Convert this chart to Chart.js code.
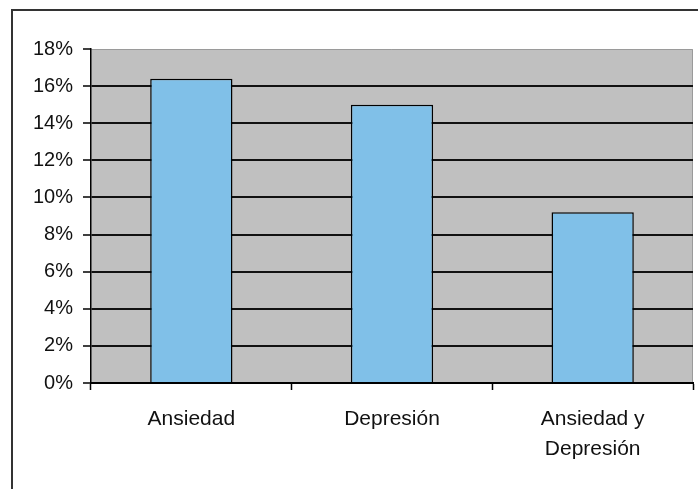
<!DOCTYPE html>
<html>
<head>
<meta charset="utf-8">
<script src="https://cdn.jsdelivr.net/npm/chart.js@4/dist/chart.umd.min.js"></script>
<style>
    html, body { margin: 0; padding: 0; background: #fff; overflow: hidden; }
    #frame {
        position: absolute; left: 11px; top: 9px;
        width: 720px; height: 520px;
        border: 2px solid #333;
    }
    #wrap { position: absolute; left: 0; top: 0; width: 698px; height: 489px; }
</style>
</head>
<body>
<div id="frame"></div>
<div id="wrap"><canvas id="chart" width="698" height="489"></canvas></div>
<script>
// Datos
const categories = [['Ansiedad'], ['Depresión'], ['Ansiedad y', 'Depresión']];
const values = [16.4, 15.0, 9.2];
const yTicks = [0, 2, 4, 6, 8, 10, 12, 14, 16, 18];

// fondo gris del área de trazado
const plotBackground = {
    id: 'plotBackground',
    beforeDraw(chart) {
        const { ctx, chartArea: a } = chart;
        ctx.save();
        ctx.fillStyle = '#c0c0c0';
        ctx.fillRect(a.left, a.top, a.right - a.left, a.bottom - a.top);
        ctx.strokeStyle = '#9a9a9a';
        ctx.lineWidth = 1;
        ctx.beginPath();
        ctx.moveTo(a.left, a.top + 0.5);
        ctx.lineTo(a.right - 0.5, a.top + 0.5);
        ctx.lineTo(a.right - 0.5, a.bottom);
        ctx.stroke();
        ctx.restore();
    }
};

const ctx = document.getElementById('chart').getContext('2d');
new Chart(ctx, {
    type: 'bar',
    data: {
        labels: categories,
        datasets: [{
            data: values,
            backgroundColor: '#80c0e8',
            borderColor: '#000',
            borderWidth: 1.5,
            barPercentage: 0.41,
            categoryPercentage: 1
        }]
    },
    options: {
        responsive: false,
        animation: false,
        layout: { padding: { top: 49, right: 5, left: 0, bottom: 0 } },
        plugins: {
            legend: { display: false },
            tooltip: { enabled: false }
        },
        scales: {
            x: {
                offset: true,
                grid: {
                    offset: true,
                    drawOnChartArea: false,
                    drawTicks: true,
                    tickLength: 7,
                    tickColor: '#000',
                    tickWidth: 1.5
                },
                border: { color: '#000', width: 2 },
                ticks: {
                    color: '#111',
                    padding: 14,
                    font: { family: '"Liberation Sans", Arial', size: 21, lineHeight: 1.45 },
                    maxRotation: 0
                },
                afterFit(scale) { scale.height = 106; }
            },
            y: {
                min: 0,
                max: 18,
                afterBuildTicks(scale) {
                    scale.ticks = yTicks.map(v => ({ value: v }));
                },
                grid: {
                    color: c => (c.tick && c.tick.value === 18) ? 'rgba(0,0,0,0)' : '#111',
                    lineWidth: 2,
                    tickColor: '#000',
                    tickWidth: 1.5,
                    tickLength: 8
                },
                border: { color: '#000', width: 1.5 },
                ticks: {
                    color: '#111',
                    padding: 10,
                    font: { family: '"Liberation Sans", Arial', size: 20 },
                    callback: v => v + '%'
                },
                afterFit(scale) { scale.width = 91; }
            }
        }
    },
    plugins: [plotBackground]
});
</script>
</body>
</html>
